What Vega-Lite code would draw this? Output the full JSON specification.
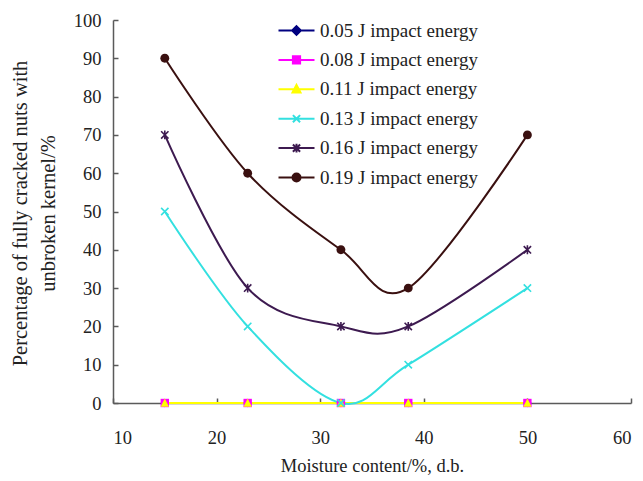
{
  "$schema": "https://vega.github.io/schema/vega-lite/v6.json",
  "width": 518,
  "height": 383,
  "autosize": "none",
  "padding": {"left": 113, "top": 20, "right": 12, "bottom": 78},
  "background": "white",
  "config": {
    "view": {"stroke": null},
    "font": "Liberation Serif",
    "axis": {
      "domainColor": "#5a5a5a", "domainWidth": 1.5,
      "tickColor": "#5a5a5a", "tickWidth": 1.5, "tickSize": -5,
      "grid": false,
      "labelFont": "Liberation Serif", "labelFontSize": 18.5, "labelColor": "#222222",
      "titleFont": "Liberation Serif", "titleFontSize": 19, "titleFontWeight": "normal", "titleColor": "#222222"
    }
  },
  "data": {"values": [
    {"series": "0.05 J impact energy", "x": 15, "y": 0},
    {"series": "0.05 J impact energy", "x": 23, "y": 0},
    {"series": "0.05 J impact energy", "x": 32, "y": 0},
    {"series": "0.05 J impact energy", "x": 38.5, "y": 0},
    {"series": "0.05 J impact energy", "x": 50, "y": 0},
    {"series": "0.08 J impact energy", "x": 15, "y": 0},
    {"series": "0.08 J impact energy", "x": 23, "y": 0},
    {"series": "0.08 J impact energy", "x": 32, "y": 0},
    {"series": "0.08 J impact energy", "x": 38.5, "y": 0},
    {"series": "0.08 J impact energy", "x": 50, "y": 0},
    {"series": "0.11 J impact energy", "x": 15, "y": 0},
    {"series": "0.11 J impact energy", "x": 23, "y": 0},
    {"series": "0.11 J impact energy", "x": 32, "y": 0},
    {"series": "0.11 J impact energy", "x": 38.5, "y": 0},
    {"series": "0.11 J impact energy", "x": 50, "y": 0},
    {"series": "0.13 J impact energy", "x": 15, "y": 50},
    {"series": "0.13 J impact energy", "x": 23, "y": 20},
    {"series": "0.13 J impact energy", "x": 32, "y": 0},
    {"series": "0.13 J impact energy", "x": 38.5, "y": 10},
    {"series": "0.13 J impact energy", "x": 50, "y": 30},
    {"series": "0.16 J impact energy", "x": 15, "y": 70},
    {"series": "0.16 J impact energy", "x": 23, "y": 30},
    {"series": "0.16 J impact energy", "x": 32, "y": 20},
    {"series": "0.16 J impact energy", "x": 38.5, "y": 20},
    {"series": "0.16 J impact energy", "x": 50, "y": 40},
    {"series": "0.19 J impact energy", "x": 15, "y": 90},
    {"series": "0.19 J impact energy", "x": 23, "y": 60},
    {"series": "0.19 J impact energy", "x": 32, "y": 40},
    {"series": "0.19 J impact energy", "x": 38.5, "y": 30},
    {"series": "0.19 J impact energy", "x": 50, "y": 70}
  ]},
  "encoding": {
    "x": {
      "field": "x", "type": "quantitative",
      "scale": {"domain": [10, 60], "nice": false, "zero": false},
      "axis": {"values": [10, 20, 30, 40, 50, 60], "title": "Moisture content/%, d.b.", "titleFontSize": 18.5, "labelPadding": 30, "titlePadding": 10}
    },
    "y": {
      "field": "y", "type": "quantitative",
      "scale": {"domain": [0, 100], "nice": false},
      "axis": {"values": [0, 10, 20, 30, 40, 50, 60, 70, 80, 90, 100],
               "title": ["Percentage of fully cracked nuts with", "unbroken kernel/%"],
               "titleFontSize": 20.5,
               "titleLineHeight": 28, "titleBaseline": "top", "titleAngle": -90,
               "titleX": -103, "titleY": 193, "titleAlign": "center",
               "labelPadding": 17}
    }
  },
  "layer": [
    {
      "mark": {"type": "line", "interpolate": "cardinal", "strokeWidth": 2},
      "encoding": {
        "color": {
          "field": "series", "type": "nominal",
          "scale": {
            "domain": ["0.05 J impact energy", "0.08 J impact energy", "0.11 J impact energy", "0.13 J impact energy", "0.16 J impact energy", "0.19 J impact energy"],
            "range": ["#000080", "#ff00ff", "#ffff00", "#33e0e0", "#3d1a50", "#3a1010"]
          },
          "legend": {
            "title": null, "orient": "none", "legendX": 174, "legendY": 1,
            "labelFont": "Liberation Serif", "labelFontSize": 19, "labelColor": "#222222",
            "symbolSize": 64, "labelOffset": 14, "rowPadding": 9.4,
            "encode": {
              "symbols": {"update": {
                "shape": {"signal": "datum.value === '0.05 J impact energy' ? 'M-4.5,0H4.5M0,-1.1L1.1,0L0,1.1L-1.1,0Z' : datum.value === '0.08 J impact energy' ? 'M-4.5,0H4.5M-0.9,-0.9H0.9V0.9H-0.9Z' : datum.value === '0.11 J impact energy' ? 'M-4.5,0H4.5M0,-1.1L1,0.8L-1,0.8Z' : datum.value === '0.13 J impact energy' ? 'M-4.5,0H4.5M-0.9,-0.9L0.9,0.9M-0.9,0.9L0.9,-0.9' : datum.value === '0.16 J impact energy' ? 'M-4.5,0H4.5M-0.9,-0.9L0.9,0.9M-0.9,0.9L0.9,-0.9M0,-1.1V1.1' : 'M-4.5,0H4.5M1,0A1,1,0,1,1,-1,0A1,1,0,1,1,1,0Z'"},
                "fill": {"scale": "color", "field": "value"},
                "stroke": {"scale": "color", "field": "value"},
                "strokeWidth": {"value": 2},
                "size": {"value": 64},
                "opacity": {"value": 1},
                "fillOpacity": {"value": 1},
                "strokeOpacity": {"value": 1}
              }}
            }
          }
        }
      }
    },
    {
      "transform": [{"filter": {"field": "series", "oneOf": ["0.05 J impact energy", "0.08 J impact energy", "0.11 J impact energy", "0.19 J impact energy"]}}],
      "mark": {"type": "point", "filled": true, "size": 110, "opacity": 1, "strokeWidth": 0},
      "encoding": {
        "color": {"field": "series", "type": "nominal"},
        "shape": {
          "field": "series", "type": "nominal",
          "scale": {
            "domain": ["0.19 J impact energy", "0.16 J impact energy", "0.13 J impact energy", "0.11 J impact energy", "0.08 J impact energy", "0.05 J impact energy"],
            "range": ["M0.85,0A0.85,0.85,0,1,1,-0.85,0A0.85,0.85,0,1,1,0.85,0Z", "M-0.7,-0.7L0.7,0.7M-0.7,0.7L0.7,-0.7M0,-0.85V0.85", "M-0.7,-0.7L0.7,0.7M-0.7,0.7L0.7,-0.7", "M0,-0.85L0.8,0.7L-0.8,0.7Z", "M-0.8,-0.8H0.8V0.8H-0.8Z", "M0,-0.8L0.8,0L0,0.8L-0.8,0Z"]
          },
          "legend": null
        }
      }
    },
    {
      "transform": [{"filter": {"field": "series", "oneOf": ["0.13 J impact energy", "0.16 J impact energy"]}}],
      "mark": {"type": "point", "filled": false, "size": 110, "opacity": 1, "strokeWidth": 1.6},
      "encoding": {
        "color": {"field": "series", "type": "nominal"},
        "shape": {"field": "series", "type": "nominal", "legend": null}
      }
    }
  ]
}
